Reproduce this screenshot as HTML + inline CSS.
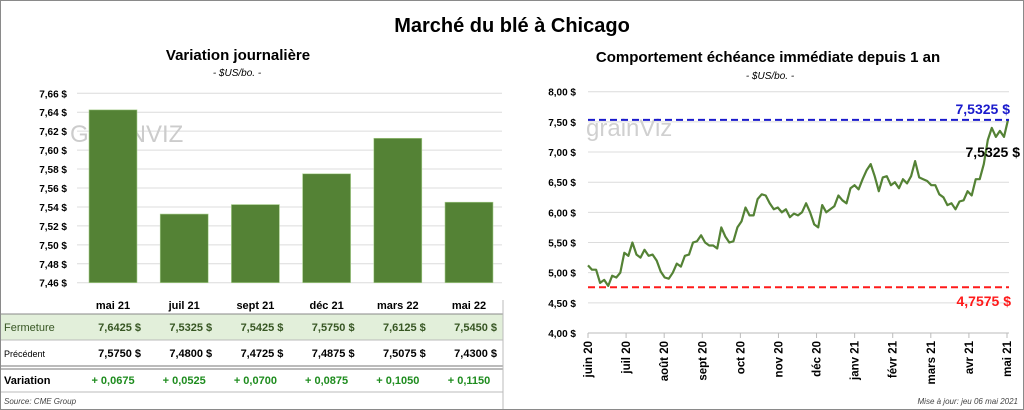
<!DOCTYPE html>
<html><head><meta charset="utf-8"><style>
body{margin:0;background:#fff;}
svg{display:block;font-family:"Liberation Sans",sans-serif;}
</style></head><body>
<svg id="root" width="1024" height="410" viewBox="0 0 1024 410">
<rect x="0.5" y="0.5" width="1023" height="409" fill="#fff" stroke="#8a8a8a"/>
<text x="512" y="32" text-anchor="middle" font-size="20" font-weight="bold">Marché du blé à Chicago</text>
<text x="238" y="60" text-anchor="middle" font-size="15" font-weight="bold">Variation  journalière</text>
<text x="237" y="76" text-anchor="middle" font-size="10" font-style="italic">- $US/bo. -</text>
<text x="768" y="62" text-anchor="middle" font-size="15" font-weight="bold">Comportement  échéance immédiate depuis 1 an</text>
<text x="770" y="79" text-anchor="middle" font-size="10" font-style="italic">- $US/bo. -</text>
<g id="left"></g>
<g id="right"></g>
<g id="table">
<rect x="1" y="314" width="502" height="26" fill="#e2efda"/>
<line x1="1" y1="314" x2="503" y2="314" stroke="#888"/>
<line x1="1" y1="340" x2="503" y2="340" stroke="#bbb"/>
<line x1="1" y1="366" x2="503" y2="366" stroke="#777"/>
<line x1="1" y1="369" x2="503" y2="369" stroke="#777"/>
<line x1="1" y1="392" x2="503" y2="392" stroke="#bbb"/>
<line x1="503" y1="300" x2="503" y2="409" stroke="#bbb"/>
<text x="4" y="331" font-size="11" fill="#375623">Fermeture</text>
<text x="4" y="357" font-size="9">Précédent</text>
<text x="4" y="384" font-size="11" font-weight="bold">Variation</text>
<text x="4" y="404" font-size="8" font-style="italic" fill="#444">Source: CME Group</text>
</g>
<text x="1018" y="404" text-anchor="end" font-size="8" font-style="italic" fill="#444">Mise à jour: jeu 06 mai 2021</text>
</svg>
<script>
const contracts=["mai 21","juil 21","sept 21","déc 21","mars 22","mai 22"];
const closeVals=[7.6425,7.5325,7.5425,7.5750,7.6125,7.5450];
const prevVals=[7.5750,7.4800,7.4725,7.4875,7.5075,7.4300];
const leftTicks=[7.46,7.48,7.50,7.52,7.54,7.56,7.58,7.60,7.62,7.64,7.66];
const months=["juin 20","juil 20","août 20","sept 20","oct 20","nov 20","déc 20","janv 21","févr 21","mars 21","avr 21","mai 21"];
const prices=[5.12,5.05,5.05,4.83,4.88,4.78,4.95,4.92,5.0,5.33,5.28,5.50,5.30,5.25,5.38,5.28,5.30,5.20,5.02,4.92,4.90,5.00,5.15,5.10,5.28,5.30,5.50,5.52,5.62,5.50,5.45,5.45,5.40,5.75,5.60,5.50,5.52,5.75,5.85,6.08,5.95,5.95,6.22,6.30,6.28,6.15,6.05,6.08,6.00,6.05,5.92,5.98,5.95,6.00,6.15,6.00,5.80,5.75,6.12,6.00,6.05,6.10,6.28,6.20,6.15,6.40,6.45,6.38,6.55,6.70,6.80,6.60,6.35,6.58,6.60,6.45,6.50,6.40,6.55,6.48,6.60,6.85,6.58,6.55,6.52,6.45,6.45,6.30,6.25,6.12,6.15,6.05,6.18,6.20,6.35,6.28,6.55,6.55,6.80,7.20,7.40,7.25,7.35,7.25,7.5325];
const rightTicks=[4.0,4.5,5.0,5.5,6.0,6.5,7.0,7.5,8.0];
const highVal=7.5325, lowVal=4.7575;
const NS="http://www.w3.org/2000/svg";
function mk(p,t,a,txt){const e=document.createElementNS(NS,t);for(const k in a)e.setAttribute(k,a[k]);if(txt!==undefined)e.textContent=txt;p.appendChild(e);return e;}
const fmt=(v,d)=>v.toFixed(d).replace('.',',');
// left
const L=document.getElementById('left');
const ly=v=>282.7-(v-7.46)/(0.20)*(282.7-93.3);
const lx=i=>89+i*71.2;
leftTicks.forEach(t=>{
 let g=mk(L,'line',{x1:77,x2:502,y1:ly(t),y2:ly(t),stroke:'#dcdcdc'});
 
 
 let tx=mk(L,'text',{x:67,y:ly(t)+4,'text-anchor':'end','font-size':10,'font-weight':'bold'},fmt(t,2)+' $');
 
 
});
mk(L,'text',{x:70,y:142,'font-size':24,fill:'#ccc'},'GRAINVIZ');
closeVals.forEach((v,i)=>{
 let b=mk(L,'rect',{x:lx(i),y:ly(v),width:48,height:282.7-ly(v),fill:'#548235',stroke:'#a9d08e','stroke-width':0.6});
 
 
});
// table
const T=document.getElementById('table');
contracts.forEach((c,i)=>{
 const cx=lx(i)+24, rx=lx(i)+52;
 let h=mk(T,'text',{x:cx,y:309,'text-anchor':'middle','font-size':11,'font-weight':'bold'},c);
 
 
 let f=mk(T,'text',{x:rx,y:331,'text-anchor':'end','font-size':11,'font-weight':'bold',fill:'#375623'},fmt(closeVals[i],4)+'  $');
 
 
 let p=mk(T,'text',{x:rx,y:357,'text-anchor':'end','font-size':11,'font-weight':'bold'},fmt(prevVals[i],4)+'  $');
 
 
 let d=closeVals[i]-prevVals[i];
 let v=mk(T,'text',{x:cx,y:384,'text-anchor':'middle','font-size':11,'font-weight':'bold',fill:'#1e8c1e'},'+ '+fmt(d,4));
 
 
});
// right
const R=document.getElementById('right');
const ry=v=>333-(v-4)/4*(333-91.7);
const mx=i=>588+i*(1007-588)/11;
rightTicks.forEach(t=>{
 let g=mk(R,'line',{x1:588,x2:1009,y1:ry(t),y2:ry(t),stroke:'#dcdcdc'});
 
 
 let tx=mk(R,'text',{x:576,y:ry(t)+4,'text-anchor':'end','font-size':10,'font-weight':'bold'},fmt(t,2)+' $');
 
 
});
mk(R,'line',{x1:588,x2:1009,y1:333,y2:333,stroke:'#bbb'});
months.forEach((m,i)=>{
 mk(R,'line',{x1:mx(i),x2:mx(i),y1:333,y2:338,stroke:'#bbb'});
 let tx=mk(R,'text',{x:0,y:0,'text-anchor':'end','font-size':11.5,'font-weight':'bold',transform:`translate(${mx(i)+4},341) rotate(-90)`},m);
 
 
});
mk(R,'text',{x:586,y:136,'font-size':24,fill:'#d0d0d0'},'grainViz');
const x0=588,x1=1008;
const pts=prices.map((v,i)=>(x0+i*(x1-x0)/(prices.length-1)).toFixed(1)+','+ry(v).toFixed(1)).join(' ');
let pl=mk(R,'polyline',{points:pts,fill:'none',stroke:'#548235','stroke-width':2.2,'stroke-linejoin':'round'});


let hl=mk(R,'line',{x1:588,x2:1009,y1:ry(highVal),y2:ry(highVal),stroke:'#1a1acc','stroke-width':2,'stroke-dasharray':'7,4'});


let ll=mk(R,'line',{x1:588,x2:1009,y1:ry(lowVal),y2:ry(lowVal),stroke:'#ff1a1a','stroke-width':2,'stroke-dasharray':'7,4'});


let ht=mk(R,'text',{x:1010,y:114,'text-anchor':'end','font-size':14,'font-weight':'bold',fill:'#1a1acc'},fmt(highVal,4)+' $');


let lt=mk(R,'text',{x:1011,y:306,'text-anchor':'end','font-size':14,'font-weight':'bold',fill:'#ff1a1a'},fmt(lowVal,4)+' $');


let ct=mk(R,'text',{x:1020,y:157,'text-anchor':'end','font-size':14,'font-weight':'bold'},fmt(prices[prices.length-1],4)+' $');


</script>
</body></html>
